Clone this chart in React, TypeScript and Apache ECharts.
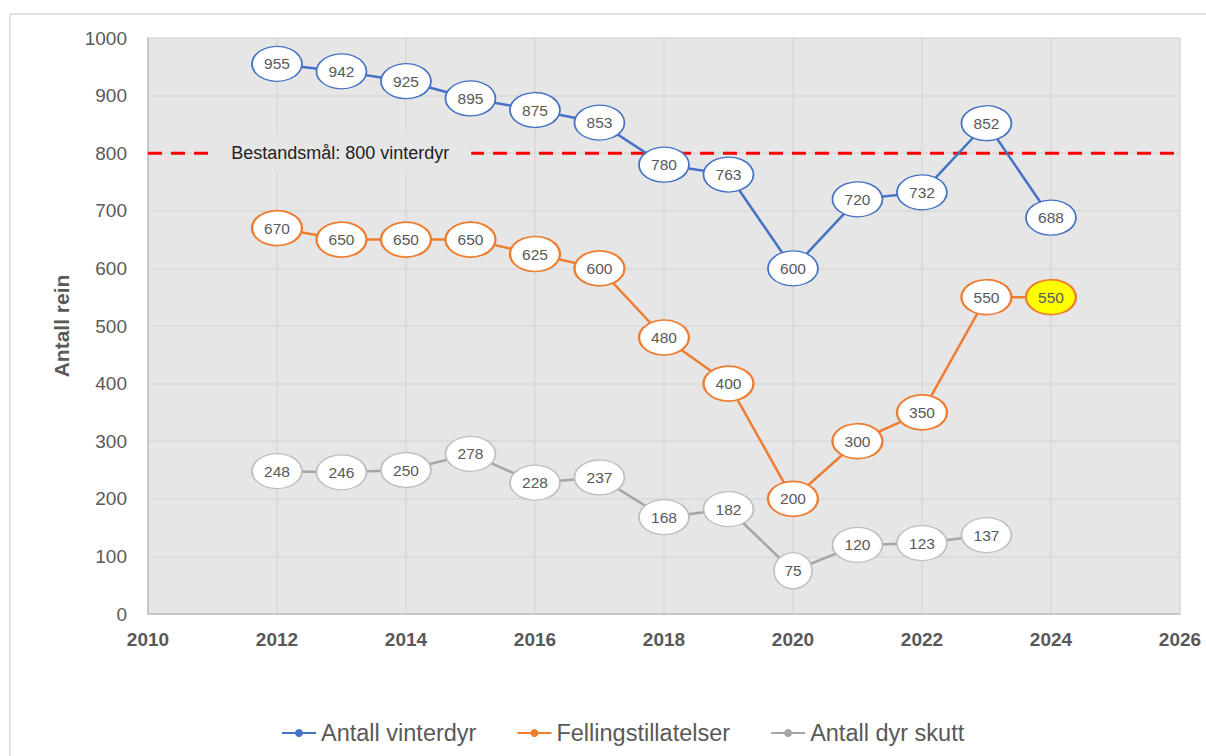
import React, { useEffect, useRef } from "react";
import * as echarts from "echarts";

const years = [2012, 2013, 2014, 2015, 2016, 2017, 2018, 2019, 2020, 2021, 2022, 2023, 2024];
const vinterdyr = [955, 942, 925, 895, 875, 853, 780, 763, 600, 720, 732, 852, 688];
const felling = [670, 650, 650, 650, 625, 600, 480, 400, 200, 300, 350, 550, 550];
const skuttYears = [2012, 2013, 2014, 2015, 2016, 2017, 2018, 2019, 2020, 2021, 2022, 2023];
const skutt = [248, 246, 250, 278, 228, 237, 168, 182, 75, 120, 123, 137];
const goal = 800;
const goalLabel = "Bestandsmål: 800 vinterdyr";
const seriesNames = ["Antall vinterdyr", "Fellingstillatelser", "Antall dyr skutt"];
const colors = ["#4472c4", "#ed7d31", "#a5a5a5"];
const borderColors = ["#4472c4", "#ed7d31", "#bfbfbf"];
const highlightYear = 2024;

const FONT = "'Liberation Sans', Arial, sans-serif";
const PLOT_BG = "#e7e6e6";

export default function App() {
  const ref = useRef<HTMLDivElement>(null);
  useEffect(() => {
    if (!ref.current) return;
    const chart = echarts.init(ref.current, null, { renderer: "svg" });
    const symSize = (v: number[]) => (v[1] < 100 ? [38, 36] : [50, 35]);
    const mk = (idx: number, xs: number[], ys: number[]) => ({
      type: "line",
      name: seriesNames[idx],
      z: 3,
      data: xs.map((x, i) =>
        x === highlightYear && idx === 1
          ? { value: [x, ys[i]], itemStyle: { color: "#ffff00" } }
          : [x, ys[i]]
      ),
      symbol: "circle",
      symbolSize: symSize,
      showAllSymbol: true,
      lineStyle: { color: colors[idx], width: 2.5 },
      itemStyle: { color: "#ffffff", borderColor: borderColors[idx], borderWidth: idx === 1 ? 2 : 1.5 },
      label: {
        show: true,
        position: "inside",
        color: "#595959",
        fontSize: 15.5,
        fontFamily: FONT,
      },
      emphasis: { disabled: true },
    });
    chart.setOption({
      animation: false,
      textStyle: { fontFamily: FONT },
      graphic: [
        {
          type: "rect",
          shape: { x: 10, y: 14, width: 1300, height: 800 },
          style: { fill: "none", stroke: "#d9d9d9", lineWidth: 1.5 },
          silent: true,
        },
      ],
      grid: {
        left: 148,
        top: 38,
        right: 26,
        bottom: 142,
        show: true,
        backgroundColor: PLOT_BG,
        borderWidth: 0,
      },
      xAxis: {
        type: "value",
        min: 2010,
        max: 2026,
        interval: 2,
        axisLine: { show: true, lineStyle: { color: "#bfbfbf", width: 1.5 } },
        axisTick: { show: false },
        splitLine: { show: true, lineStyle: { color: "#d9d9d9", width: 1.5 } },
        axisLabel: {
          formatter: (v: number) => String(v),
          fontSize: 19,
          fontWeight: "bold",
          color: "#595959",
          margin: 16,
          fontFamily: FONT,
        },
      },
      yAxis: {
        type: "value",
        min: 0,
        max: 1000,
        interval: 100,
        name: "Antall rein",
        nameLocation: "middle",
        nameGap: 76,
        nameTextStyle: { fontSize: 21, fontWeight: "bold", color: "#595959", fontFamily: FONT },
        axisLine: { show: true, lineStyle: { color: "#bfbfbf", width: 1.5 } },
        axisTick: { show: false },
        splitLine: { show: true, lineStyle: { color: "#d9d9d9", width: 1.5 } },
        axisLabel: {
          formatter: (v: number) => String(v),
          fontSize: 19,
          color: "#595959",
          margin: 21,
          fontFamily: FONT,
        },
      },
      legend: {
        left: 276,
        top: 716,
        itemWidth: 34,
        itemHeight: 10,
        itemGap: 40,
        textStyle: { fontSize: 23.5, color: "#595959", fontFamily: FONT },
        data: seriesNames.map((n, i) => ({
          name: n,
          itemStyle: { color: colors[i], borderWidth: 0 },
        })),
      },
      series: [
        {
          type: "line",
          name: "goal",
          z: 1,
          data: [
            [2010, goal],
            [2026, goal],
          ],
          symbol: "none",
          lineStyle: { color: "#ff0000", width: 3, type: [14, 9] },
          emphasis: { disabled: true },
          silent: true,
          markPoint: {
            silent: true,
            symbol: "rect",
            symbolSize: [262, 39],
            itemStyle: { color: PLOT_BG },
            label: {
              show: true,
              position: "inside",
              formatter: goalLabel,
              color: "#222222",
              fontSize: 18,
              fontFamily: FONT,
            },
            data: [{ coord: [2012.98, goal] }],
          },
        },
        mk(0, years, vinterdyr),
        mk(1, years, felling),
        mk(2, skuttYears, skutt),
      ],
    });
    return () => chart.dispose();
  }, []);
  return (
    <div
      ref={ref}
      style={{ position: "absolute", left: 0, top: 0, width: 1206, height: 756, background: "#ffffff" }}
    />
  );
}
